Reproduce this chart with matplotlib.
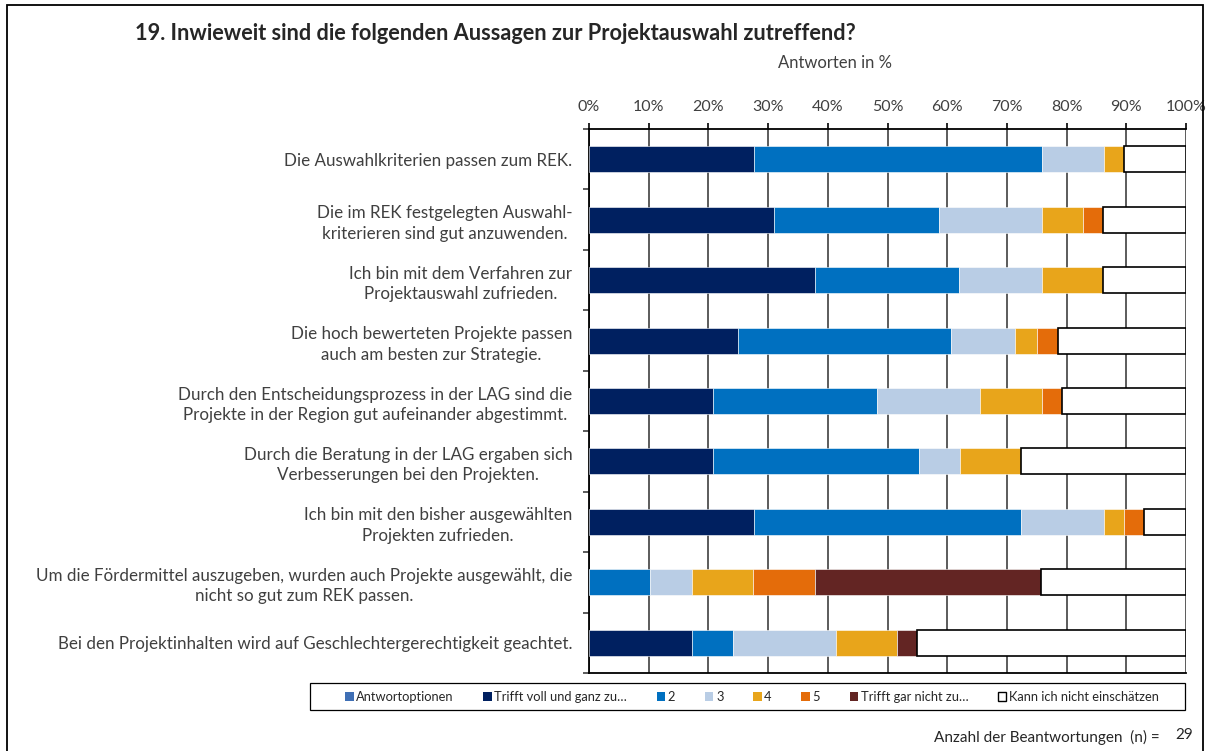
import matplotlib
matplotlib.use("Agg")
import matplotlib.pyplot as plt
from matplotlib.patches import Rectangle, Patch
import numpy as np

plt.rcParams['font.family'] = ['Lato', 'DejaVu Sans']

labels = [
    "Die Auswahlkriterien passen zum REK.",
    "Die im REK festgelegten Auswahl-\nkriterieren sind gut anzuwenden.",
    "Ich bin mit dem Verfahren zur\nProjektauswahl zufrieden.",
    "Die hoch bewerteten Projekte passen\nauch am besten zur Strategie.",
    "Durch den Entscheidungsprozess in der LAG sind die\nProjekte in der Region gut aufeinander abgestimmt.",
    "Durch die Beratung in der LAG ergaben sich\nVerbesserungen bei den Projekten.",
    "Ich bin mit den bisher ausgewählten\nProjekten zufrieden.",
    "Um die Fördermittel auszugeben, wurden auch Projekte ausgewählt, die\nnicht so gut zum REK passen.",
    "Bei den Projektinhalten wird auf Geschlechtergerechtigkeit geachtet.",
]

# Antworten in %
voll       = [27.6, 31.0, 37.9, 25.0, 20.7, 20.7, 27.6,  0.0, 17.2]
zwei       = [48.3, 27.6, 24.1, 35.7, 27.6, 34.5, 44.8, 10.3,  6.9]
drei       = [10.3, 17.2, 13.8, 10.7, 17.2,  6.9, 13.8,  6.9, 17.2]
vier       = [ 3.4,  6.9, 10.3,  3.6, 10.3, 10.3,  3.4, 10.3, 10.3]
fuenf      = [ 0.0,  3.4,  0.0,  3.6,  3.4,  0.0,  3.4, 10.3,  0.0]
gar_nicht  = [ 0.0,  0.0,  0.0,  0.0,  0.0,  0.0,  0.0, 37.9,  3.4]
kann_nicht = [10.4, 13.9, 13.9, 21.4, 20.8, 27.6,  7.0, 24.3, 45.0]

series_names = ["Trifft voll und ganz zu…", "2", "3", "4", "5",
                "Trifft gar nicht zu…", "Kann ich nicht einschätzen"]
colors = ["#002060", "#0070C0", "#B9CDE5", "#E8A51B", "#E46C0A", "#632523", "#FFFFFF"]
n_answers = 29

fig = plt.figure(figsize=(12.08, 7.51), dpi=100)
ax = fig.add_axes([589/1208, 1-673/751, (1186-589)/1208, (673-129)/751])

y = np.arange(len(labels))
left = np.zeros(len(labels))
data = [voll, zwei, drei, vier, fuenf, gar_nicht, kann_nicht]
for vals, col in zip(data, colors):
    vals = np.array(vals)
    if col == "#FFFFFF":
        ax.barh(y, vals, left=left, height=0.43, color=col, edgecolor="black", linewidth=1.2, zorder=3)
    else:
        ax.barh(y, vals, left=left, height=0.43, color=col, edgecolor="white", linewidth=0.4, zorder=3)
    left += vals

ax.set_xlim(0, 100)
ax.set_ylim(len(labels)-0.5, -0.5)
ax.xaxis.tick_top()
ax.set_xticks(np.arange(0, 101, 10))
ax.set_xticklabels([f"{v}%" for v in range(0, 101, 10)], fontsize=11.5, color="#404040")
ax.tick_params(axis="x", direction="out", length=4.5, width=1.2, color="black", pad=6)
ax.set_yticks(y)
ax.set_yticklabels(labels, fontsize=12.25, color="#404040", multialignment="center", linespacing=1.35)
ax.tick_params(axis="y", which="major", length=0, pad=12)
ax.set_yticks(np.arange(-0.5, len(labels)), minor=True)
ax.tick_params(axis="y", which="minor", direction="out", length=4.5, width=1.2, color="#404040")
ax.grid(axis="x", color="#404040", linewidth=1.2, zorder=0)
ax.set_axisbelow(True)
for s in ["left", "top", "bottom"]:
    ax.spines[s].set_linewidth(1.3)
    ax.spines[s].set_color("black")
ax.spines["right"].set_visible(False)

fig.text(135/1208, 1-33/751, "19. Inwieweit sind die folgenden Aussagen zur Projektauswahl zutreffend?",
         fontsize=15.7, fontweight="bold", color="#262626", va="center", ha="left")
fig.text(835/1208, 1-63/751, "Antworten in %", fontsize=12, color="#404040", va="center", ha="center")

handles = [Patch(facecolor="#3F6FB5", edgecolor="none")]
for col in colors:
    if col == "#FFFFFF":
        handles.append(Patch(facecolor=col, edgecolor="black", linewidth=1))
    else:
        handles.append(Patch(facecolor=col, edgecolor="none"))
names = ["Antwortoptionen"] + series_names
leg = fig.legend(handles, names, ncol=8, loc="center",
                 bbox_to_anchor=(752/1208, 1-697/751),
                 fontsize=9.3, handlelength=0.65, handleheight=0.65,
                 handletextpad=0.2, columnspacing=2.3, frameon=False,
                 borderaxespad=0, borderpad=0)
for t in leg.get_texts():
    t.set_color("#262626")
fig.patches.append(Rectangle((310/1208, 1-710/751), (1185-310)/1208, (710-683)/751,
                             transform=fig.transFigure, fill=False, edgecolor="black", linewidth=0.9))

fig.text(1160/1208, 1-737/751, "Anzahl der Beantwortungen  (n) =", fontsize=11, color="#262626",
         ha="right", va="center")
fig.text(1184/1208, 1-735/751, str(n_answers), fontsize=11, color="#262626", ha="center", va="center")

fig.patches.append(Rectangle((7/1208, -0.05), (1203-7)/1208, 1.05-5/751, transform=fig.transFigure,
                             fill=False, edgecolor="black", linewidth=1.3))

fig.savefig("out.png", dpi=100)
